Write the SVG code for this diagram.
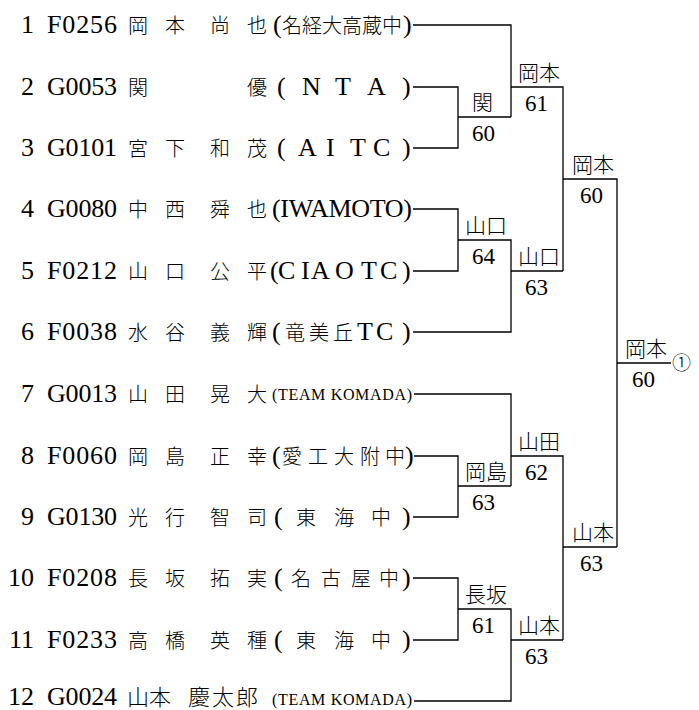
<svg xmlns="http://www.w3.org/2000/svg" width="699" height="710" viewBox="0 0 699 710">
<style>
.n{font-family:"Liberation Serif",serif;font-size:26px;text-anchor:end;fill:#000}
.l{font-family:"Liberation Serif",serif;font-size:26px;fill:#000}
.j{font-family:"Noto Sans CJK JP",sans-serif;font-size:20px;font-weight:300;fill:#000}
.s{font-family:"Liberation Serif",serif;font-size:16px;fill:#000}
.w{font-family:"Noto Sans CJK JP",sans-serif;font-size:21px;font-weight:300;fill:#000}
.sc{font-family:"Liberation Serif",serif;font-size:23px;fill:#000}
.ci{font-family:"Noto Sans CJK JP",sans-serif;font-size:19px;font-weight:300;fill:#000}
.ln{fill:none;stroke:#000;stroke-width:1.3}
</style>
<rect width="699" height="710" fill="#fff"/>
<g id="connectors" class="ln">
<path d="M413 25H511V117"/>
<path d="M413 87H458V148H413"/>
<path d="M458 117H511"/>
<path d="M511 87H563V271"/>
<path d="M413 209H458V271H413"/>
<path d="M458 240H511V332H413"/>
<path d="M511 271H563"/>
<path d="M563 179H617V547"/>
<path d="M617 363H671"/>
<path d="M414 394H511V486"/>
<path d="M414 456H458V517H413"/>
<path d="M458 486H511"/>
<path d="M511 456H563V640"/>
<path d="M413 578H458V640H413"/>
<path d="M458 609H511V701H414"/>
<path d="M511 640H563"/>
<path d="M563 547H617"/>
</g>
<g id="p1"><text class="n" x="34" y="33">1</text><text class="l" x="47" y="33" textLength="70">F0256</text><text class="j" x="128 165 210 247" y="33">岡本尚也</text><text class="l" x="273" y="33">(</text><text class="j" x="282 302 322 342 362 382" y="33">名経大高蔵中</text><text class="l" x="403" y="33">)</text></g>
<g id="p2"><text class="n" x="34" y="95">2</text><text class="l" x="47" y="95" textLength="70">G0053</text><text class="j" x="128 247" y="95">関優</text><text class="l" x="277 302 335 367 402" y="95">(NTA)</text></g>
<g id="p3"><text class="n" x="34" y="156">3</text><text class="l" x="47" y="156" textLength="70">G0101</text><text class="j" x="128 165 210 247" y="156">宮下和茂</text><text class="l" x="277 298 326 350 373 402" y="156">(AITC)</text></g>
<g id="p4"><text class="n" x="34" y="217">4</text><text class="l" x="47" y="217" textLength="70">G0080</text><text class="j" x="128 165 210 247" y="217">中西舜也</text><text class="l" x="272" y="217" textLength="140">(IWAMOTO)</text></g>
<g id="p5"><text class="n" x="34" y="279">5</text><text class="l" x="47" y="279" textLength="70">F0212</text><text class="j" x="128 165 210 247" y="279">山口公平</text><text class="l" x="270 278 301 311 335 361 380 402" y="279">(CIAOTC)</text></g>
<g id="p6"><text class="n" x="34" y="340">6</text><text class="l" x="47" y="340" textLength="70">F0038</text><text class="j" x="128 165 210 247" y="340">水谷義輝</text><text class="l" x="272" y="340">(</text><text class="j" x="285 309 333" y="340">竜美丘</text><text class="l" x="357 376 402" y="340">TC)</text></g>
<g id="p7"><text class="n" x="34" y="402">7</text><text class="l" x="47" y="402" textLength="70">G0013</text><text class="j" x="128 165 210 247" y="402">山田晃大</text><text class="s" x="272" y="400" textLength="140">(TEAM KOMADA)</text></g>
<g id="p8"><text class="n" x="34" y="464">8</text><text class="l" x="47" y="464" textLength="70">F0060</text><text class="j" x="128 165 210 247" y="464">岡島正幸</text><text class="l" x="272" y="464">(</text><text class="j" x="282 308 334 360 385" y="464">愛工大附中</text><text class="l" x="405" y="464">)</text></g>
<g id="p9"><text class="n" x="34" y="525">9</text><text class="l" x="47" y="525" textLength="70">G0130</text><text class="j" x="128 165 210 247" y="525">光行智司</text><text class="l" x="274" y="525">(</text><text class="j" x="296 334 371" y="525">東海中</text><text class="l" x="402" y="525">)</text></g>
<g id="p10"><text class="n" x="34" y="586">10</text><text class="l" x="47" y="586" textLength="70">F0208</text><text class="j" x="128 165 210 247" y="586">長坂拓実</text><text class="l" x="274" y="586">(</text><text class="j" x="291 321 351 379" y="586">名古屋中</text><text class="l" x="402" y="586">)</text></g>
<g id="p11"><text class="n" x="34" y="648">11</text><text class="l" x="47" y="648" textLength="70">F0233</text><text class="j" x="128 165 210 247" y="648">高橋英種</text><text class="l" x="274" y="648">(</text><text class="j" x="296 334 371" y="648">東海中</text><text class="l" x="402" y="648">)</text></g>
<g id="p12"><text class="n" x="34" y="705">12</text><text class="l" x="47" y="705" textLength="70">G0024</text><text class="j" x="127 149 188 212 236" y="705" style="font-size:22px">山本慶太郎</text><text class="s" x="272" y="705" textLength="140">(TEAM KOMADA)</text></g>
<g id="m1"><text class="w" x="472" y="110">関</text><text class="sc" x="472" y="141">60</text></g>
<g id="m2"><text class="w" x="518" y="80">岡本</text><text class="sc" x="525" y="111">61</text></g>
<g id="m3"><text class="w" x="465" y="233">山口</text><text class="sc" x="472" y="264">64</text></g>
<g id="m4"><text class="w" x="518" y="264">山口</text><text class="sc" x="525" y="295">63</text></g>
<g id="m5"><text class="w" x="572" y="172">岡本</text><text class="sc" x="580" y="203">60</text></g>
<g id="m6"><text class="w" x="465" y="479">岡島</text><text class="sc" x="472" y="510">63</text></g>
<g id="m7"><text class="w" x="518" y="449">山田</text><text class="sc" x="525" y="480">62</text></g>
<g id="m8"><text class="w" x="465" y="602">長坂</text><text class="sc" x="472" y="633">61</text></g>
<g id="m9"><text class="w" x="518" y="633">山本</text><text class="sc" x="525" y="664">63</text></g>
<g id="m10"><text class="w" x="572" y="540">山本</text><text class="sc" x="580" y="571">63</text></g>
<g id="m11"><text class="w" x="625" y="356">岡本</text><text class="sc" x="632" y="387">60</text><text class="ci" x="672" y="370">①</text></g>
</svg>
